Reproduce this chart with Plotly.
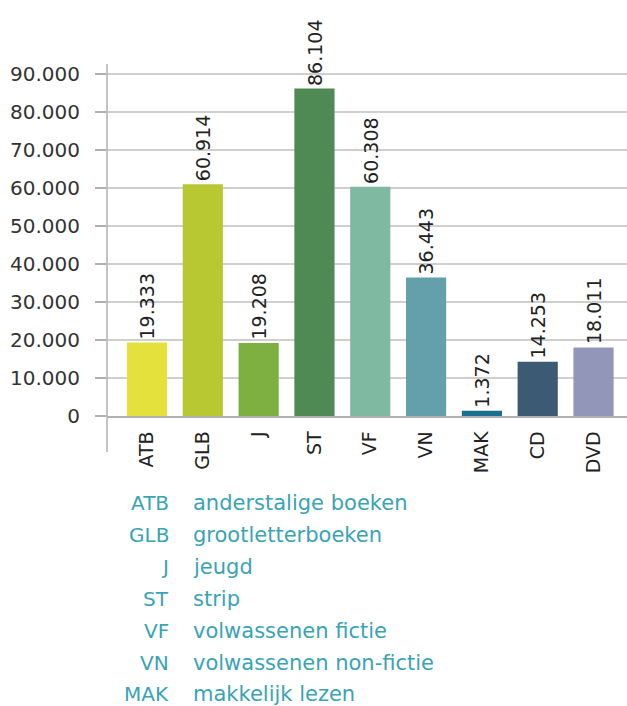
import plotly.graph_objects as go

# Collection counts per category
categories = ["ATB", "GLB", "J", "ST", "VF", "VN", "MAK", "CD", "DVD"]
values = [19333, 60914, 19208, 86104, 60308, 36443, 1372, 14253, 18011]
bar_colors = ["#e4e03c", "#b8c832", "#7db041", "#4f8a55", "#7fb9a1",
              "#63a0ac", "#1b6f8f", "#3c5a74", "#9296b8"]

# Key explaining the abbreviations
key_codes = ["ATB", "GLB", "J", "ST", "VF", "VN", "MAK"]
key_labels = ["anderstalige boeken", "grootletterboeken", "jeugd", "strip",
              "volwassenen fictie", "volwassenen non-fictie", "makkelijk lezen"]

W, H = 627, 706
ML, MR, MT, MB = 107, 0, 64, 290
plot_w = W - ML - MR
plot_h = H - MT - MB
FONT = "DejaVu Sans"
KEY_COLOR = "#3aa3b4"


def px_x(px):
    return (px - ML) / plot_w


def px_y(py):
    return (H - MB - py) / plot_h


def fmt(v):
    return f"{v:,}".replace(",", ".")


fig = go.Figure()
fig.add_trace(go.Bar(
    x=categories,
    y=values,
    marker=dict(color=bar_colors, line=dict(width=0)),
    hoverinfo="skip",
))

# Vertical axis line, extending below the baseline
fig.add_shape(type="line", xref="paper", yref="paper",
              x0=0, x1=0, y0=px_y(452), y1=1,
              line=dict(color="#b0b0b0", width=1.5), layer="above")

annotations = []
# Value labels above each bar, reading upward
for cat, val in zip(categories, values):
    annotations.append(dict(
        text=fmt(val), x=cat, y=val, xref="x", yref="y",
        textangle=-90, xanchor="center", yanchor="bottom", yshift=1,
        showarrow=False,
        font=dict(family=FONT, size=19, color="#222222")))

row_y = [503, 535, 567, 599, 631, 663, 694]
for code, label, ry in zip(key_codes, key_labels, row_y):
    annotations.append(dict(
        text=code, xref="paper", yref="paper", x=px_x(171), y=px_y(ry),
        xanchor="right", yanchor="middle", showarrow=False,
        font=dict(family=FONT, size=20, color=KEY_COLOR)))
    annotations.append(dict(
        text=label, xref="paper", yref="paper", x=px_x(191), y=px_y(ry),
        xanchor="left", yanchor="middle", showarrow=False,
        font=dict(family=FONT, size=21, color=KEY_COLOR)))

fig.update_layout(
    width=W, height=H,
    margin=dict(l=ML, r=MR, t=MT, b=MB, pad=0),
    paper_bgcolor="white", plot_bgcolor="white",
    separators=",.",
    bargap=0.28,
    showlegend=False,
    annotations=annotations,
    xaxis=dict(
        type="category",
        range=[-0.717, 8.6],
        tickangle=-90,
        showgrid=False,
        showline=True, linecolor="#b0b0b0", linewidth=1.5,
        ticks="", ticklabelstandoff=6,
        tickfont=dict(family=FONT, size=19, color="#222222"),
        fixedrange=True,
    ),
    yaxis=dict(
        range=[0, 92550],
        dtick=10000,
        tickformat=",",
        showgrid=True, gridcolor="#cfcfcf", gridwidth=1.5,
        zeroline=False,
        showline=False,
        ticks="outside", ticklen=11, tickcolor="#b0b0b0", tickwidth=1.5,
        ticklabelstandoff=11,
        tickfont=dict(family=FONT, size=20, color="#333333"),
        fixedrange=True,
    ),
)

fig.write_html("out.html")
